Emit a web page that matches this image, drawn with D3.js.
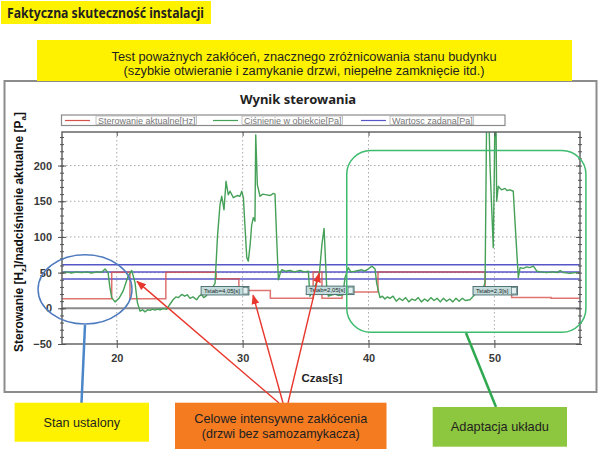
<!DOCTYPE html>
<html>
<head>
<meta charset="utf-8">
<script src="https://cdn.jsdelivr.net/npm/d3@7"></script>
<style>
  body { margin: 0; background: #fff; }
  svg { display: block; }
</style>
</head>
<body>
<svg id="chart" width="600" height="452"></svg>
<script>
// Axis ticks
const timeTicks = [20, 30, 40, 50];
const valueTicks = [-50, 0, 50, 100, 150, 200];
const timeDomain = [15.65, 56.8];
const valueDomain = [-50, 247];

// Setpoint band (Wartosc zadana [Pa])
const setpointLevels = [61, 51, 41];

// Control signal (Sterowanie aktualne [Hz]) as [time, value] steps
const controlSteps = [
  [15.65, 13.5], [19.6, 50.5], [21.05, 13.5], [23.9, 50.5], [27.9, 41.5],
  [29.7, 25], [32.2, 14], [35.6, 51], [36.3, 14], [37.9, 23], [40.75, 51],
  [49.26, 25], [51.37, 15], [54.5, 14], [56.8, 13.5]
];

// Measured pressure (Ciśnienie w obiekcie [Pa]) as [time, value]
const pressurePoints = [
  [15.65, 50], [16.0, 51], [16.4, 49.5], [16.8, 51], [17.2, 50], [17.6, 51], [18.0, 49.5],
  [18.4, 51], [18.8, 50.5], [19.07, 55], [19.31, 50], [19.45, 30], [19.6, 15], [19.86, 9],
  [20.18, 14], [20.5, 24], [20.9, 45], [21.19, 53], [21.45, 36], [21.64, 8], [21.85, -4],
  [22.05, -2], [22.25, -5], [22.45, -2], [22.64, -3], [22.85, -1], [23.04, -2.5], [23.25, -1],
  [23.44, -2], [23.7, -0.5], [23.97, -1.5], [24.2, 5], [24.47, 12], [24.7, 16], [24.9, 15],
  [25.16, 19.5], [25.4, 17], [25.6, 19], [25.82, 14], [26.05, 16], [26.35, 12], [26.55, 17],
  [26.75, 19.5], [26.9, 15], [27.09, 17], [27.25, 22], [27.41, 26], [27.67, 31], [27.81, 35],
  [28.0, 100], [28.2, 145], [28.34, 157], [28.52, 138], [28.68, 178], [28.86, 159], [29.0, 164],
  [29.26, 155], [29.56, 158], [29.79, 157], [29.93, 164], [30.06, 155], [30.2, 110], [30.33, 71],
  [30.45, 66], [30.6, 90], [30.72, 117], [30.85, 127], [30.98, 122], [31.04, 243], [31.17, 173],
  [31.38, 157], [31.6, 160], [31.91, 159], [32.2, 158], [32.44, 161], [32.57, 160], [32.7, 100],
  [32.84, 40], [33.0, 50], [33.11, 54], [33.4, 52], [33.77, 53], [34.1, 51], [34.56, 53],
  [34.9, 51], [35.22, 52], [35.3, 30], [35.35, 17], [35.55, 24], [35.75, 31], [36.09, 47],
  [36.3, 90], [36.47, 112], [36.6, 60], [36.68, 29], [36.81, 17], [37.1, 19], [37.34, 20],
  [37.6, 18], [37.97, 19], [38.13, 43], [38.39, 57], [38.6, 51], [38.93, 52], [39.2, 53],
  [39.48, 54], [39.7, 52], [39.96, 55], [40.28, 59], [40.52, 55], [40.65, 35], [40.91, 15],
  [41.1, 17], [41.3, 13], [41.5, 16], [41.7, 14], [41.95, 17], [42.2, 10], [42.45, 14],
  [42.7, 11], [42.95, 15], [43.2, 9], [43.45, 13], [43.7, 11], [43.95, 15], [44.2, 9],
  [44.45, 13], [44.7, 10], [44.95, 15], [45.2, 11], [45.45, 14], [45.7, 9], [45.95, 14],
  [46.2, 10], [46.45, 13], [46.7, 9], [46.95, 14], [47.2, 10], [47.45, 14], [47.7, 11],
  [48.06, 12], [48.46, 19.5], [48.86, 22], [49.1, 28], [49.26, 36], [49.39, 280], [49.55, 280],
  [49.65, 200], [49.91, 85], [50.0, 200], [50.05, 280], [50.12, 280], [50.18, 150], [50.31, 171],
  [50.45, 168], [50.58, 166], [50.84, 168], [51.0, 165], [51.24, 166], [51.5, 164], [51.64, 120],
  [51.9, 43], [52.04, 57], [52.3, 56], [52.57, 58], [52.8, 57], [53.1, 59], [53.37, 52],
  [53.7, 51], [54.16, 50], [54.6, 51], [55.0, 50], [55.22, 53], [55.5, 50], [56.01, 49],
  [56.4, 50], [56.8, 50]
];

// Settling time labels: start time, level, text
const tstabTimes = [26.7, 35.05, 48.3];
const tstabLevels = [25, 25.5, 25];
const tstabTexts = ['Tstab=4,05[s]', 'Tstab=2,05[s]', 'Tstab=2,3[s]'];

const legendLabels = ['Sterowanie aktualne[Hz]', 'Ciśnienie w obiekcie[Pa]', 'Wartosc zadana[Pa]'];

const colors = {
  control: '#d6504c',
  pressure: '#45a058',
  setpoint: '#5656c8',
  yellow: '#fff200',
  orange: '#f47b20',
  green: '#8dc63f',
  arrow: '#e8372c'
};

const svg = d3.select('#chart');
const plot = { left: 62, right: 580, top: 132, bottom: 344 };

const xScale = d3.scaleLinear().domain(timeDomain).range([plot.left, plot.right]);
const yScale = d3.scaleLinear().domain(valueDomain).range([plot.bottom, plot.top]);

/**
 * Outer frame, titles and legend
 */
function drawFrame() {
  svg.append('rect')
    .attr('x', 4.5).attr('y', 81).attr('width', 592).attr('height', 311)
    .style('fill', '#fff').style('stroke', '#8c8c8c').style('stroke-width', 2);

  svg.append('rect')
    .attr('x', 1).attr('y', 1).attr('width', 210).attr('height', 23)
    .style('fill', colors.yellow);
  svg.append('text')
    .attr('x', 7).attr('y', 18)
    .attr('textLength', 197).attr('lengthAdjust', 'spacingAndGlyphs')
    .style('font', 'bold 14px "Noto Sans", sans-serif').style('fill', '#231f20')
    .text('Faktyczna skuteczność instalacji');

  svg.append('text')
    .attr('x', 298).attr('y', 104).attr('text-anchor', 'middle')
    .style('font', 'bold 13px "Noto Sans", sans-serif').style('fill', '#222')
    .text('Wynik sterowania');

  // Legend
  const lg = svg.append('g');
  lg.append('rect')
    .attr('x', 61.5).attr('y', 115).attr('width', 443.5).attr('height', 10.5)
    .style('fill', '#fff').style('stroke', '#8a8a8a').style('stroke-width', 1.2);
  const lineX = [65, 213, 361];
  const textX = [98, 244, 392];
  const seriesColors = [colors.control, colors.pressure, colors.setpoint];
  legendLabels.forEach((label, i) => {
    lg.append('line')
      .attr('x1', lineX[i]).attr('x2', lineX[i] + 25)
      .attr('y1', 120.5).attr('y2', 120.5)
      .style('stroke', seriesColors[i]).style('stroke-width', 1.2);
    const t = lg.append('text')
      .attr('x', textX[i]).attr('y', 123.8)
      .style('font', '9px "Liberation Sans", sans-serif').style('fill', '#777')
      .text(label);
    const w = t.node().getComputedTextLength();
    lg.append('rect')
      .attr('x', textX[i] - 2).attr('y', 116).attr('width', w + 3).attr('height', 8.5)
      .style('fill', 'none').style('stroke', '#aaa').style('stroke-width', 0.7);
  });
}

/**
 * Plot area: grid, series, border and axes
 */
function drawPlot() {
  svg.append('clipPath').attr('id', 'plotClip')
    .append('rect')
    .attr('x', plot.left).attr('y', plot.top)
    .attr('width', plot.right - plot.left).attr('height', plot.bottom - plot.top);

  const g = svg.append('g');

  // Dotted grid
  g.selectAll('.grid-h')
    .data(valueTicks.filter(v => v > valueDomain[0] && v !== 0))
    .enter().append('line')
    .attr('x1', plot.left).attr('x2', plot.right)
    .attr('y1', d => yScale(d)).attr('y2', d => yScale(d))
    .style('stroke', '#aaa').style('stroke-width', 1).style('stroke-dasharray', '1.5,2.5');
  g.selectAll('.grid-v')
    .data(timeTicks)
    .enter().append('line')
    .attr('x1', d => xScale(d)).attr('x2', d => xScale(d))
    .attr('y1', plot.top).attr('y2', plot.bottom)
    .style('stroke', '#aaa').style('stroke-width', 1).style('stroke-dasharray', '1.5,2.5');

  // Zero line
  g.append('line')
    .attr('x1', plot.left).attr('x2', plot.right)
    .attr('y1', yScale(0)).attr('y2', yScale(0))
    .style('stroke', '#8a8a8a').style('stroke-width', 2);

  const series = g.append('g').attr('clip-path', 'url(#plotClip)');

  // Setpoint band
  series.selectAll('.setpoint')
    .data(setpointLevels)
    .enter().append('line')
    .attr('x1', xScale(timeDomain[0])).attr('x2', xScale(timeDomain[1]))
    .attr('y1', d => yScale(d)).attr('y2', d => yScale(d))
    .style('stroke', colors.setpoint).style('stroke-width', 1.5);

  // Control signal
  const stepLine = d3.line()
    .x(d => xScale(d[0]))
    .y(d => yScale(d[1]))
    .curve(d3.curveStepAfter);
  series.append('path')
    .datum(controlSteps)
    .attr('d', stepLine)
    .style('fill', 'none').style('stroke', colors.control)
    .style('stroke-width', 1.5).style('stroke-opacity', 0.8);

  // Pressure
  const line = d3.line()
    .x(d => xScale(d[0]))
    .y(d => yScale(d[1]));
  series.append('path')
    .datum(pressurePoints)
    .attr('d', line)
    .style('fill', 'none').style('stroke', colors.pressure)
    .style('stroke-width', 1.4).style('stroke-linejoin', 'round');

  // Border
  g.append('rect')
    .attr('x', plot.left).attr('y', plot.top)
    .attr('width', plot.right - plot.left).attr('height', plot.bottom - plot.top)
    .style('fill', 'none').style('stroke', '#666').style('stroke-width', 1.5);

  // Axes: major ticks cross the border, minor ticks every 10
  const minorValues = d3.range(-50, 250, 10);
  const tickStyle = sel => {
    sel.select('.domain').remove();
    sel.selectAll('line').style('stroke', '#555');
    sel.selectAll('text')
      .style('font', 'bold 11px "Liberation Sans", Arial, sans-serif')
      .style('fill', '#3a3a3a');
  };

  g.append('g').attr('transform', `translate(${plot.left},0)`)
    .call(d3.axisLeft(yScale).tickValues(valueTicks).tickSize(4).tickPadding(6))
    .call(tickStyle);
  g.append('g').attr('transform', `translate(${plot.left},0)`)
    .call(d3.axisRight(yScale).tickValues(valueTicks).tickSize(4).tickFormat(''))
    .call(tickStyle);
  [plot.left, plot.right].forEach(x0 => {
    g.append('g').attr('transform', `translate(${x0},0)`)
      .call(d3.axisLeft(yScale).tickValues(minorValues).tickSize(2).tickFormat(''))
      .call(tickStyle);
    g.append('g').attr('transform', `translate(${x0},0)`)
      .call(d3.axisRight(yScale).tickValues(minorValues).tickSize(2).tickFormat(''))
      .call(tickStyle);
  });
  g.append('g').attr('transform', `translate(${plot.right},0)`)
    .call(d3.axisLeft(yScale).tickValues(valueTicks).tickSize(4).tickFormat(''))
    .call(tickStyle);

  g.append('g').attr('transform', `translate(0,${plot.bottom})`)
    .call(d3.axisBottom(xScale).tickValues(timeTicks).tickSize(4).tickPadding(6))
    .call(tickStyle);
  g.append('g').attr('transform', `translate(0,${plot.bottom})`)
    .call(d3.axisTop(xScale).tickValues(timeTicks).tickSize(4).tickFormat(''))
    .call(tickStyle);
  g.append('g').attr('transform', `translate(0,${plot.top})`)
    .call(d3.axisBottom(xScale).tickValues(timeTicks).tickSize(4).tickFormat(''))
    .call(tickStyle);

  // Axis titles
  svg.append('text')
    .attr('x', 322).attr('y', 382).attr('text-anchor', 'middle')
    .style('font', 'bold 11.5px "Liberation Sans", Arial, sans-serif').style('fill', '#222')
    .text('Czas[s]');

  const yTitle = svg.append('text')
    .attr('transform', 'translate(23,232) rotate(-90)')
    .attr('text-anchor', 'middle')
    .style('font', 'bold 12px "Liberation Sans", Arial, sans-serif').style('fill', '#111');
  yTitle.append('tspan').text('Sterowanie [H');
  yTitle.append('tspan').attr('dy', 3).style('font-size', '8px').text('z');
  yTitle.append('tspan').attr('dy', -3).text(']/nadciśnienie aktualne [P');
  yTitle.append('tspan').attr('dy', 3).style('font-size', '8px').text('a');
  yTitle.append('tspan').attr('dy', -3).text(']');

  // Settling time boxes
  tstabTexts.forEach((label, i) => {
    const bx = xScale(tstabTimes[i]);
    const by = yScale(tstabLevels[i]);
    const box = svg.append('g');
    const t = box.append('text')
      .attr('x', bx + 3).attr('y', by + 2.3)
      .style('font', '6px "Liberation Sans", sans-serif').style('fill', '#1d2b2b')
      .text(label);
    const w = t.node().getComputedTextLength();
    box.insert('rect', 'text')
      .attr('x', bx).attr('y', by - 4).attr('width', w + 12).attr('height', 8.5)
      .style('fill', '#c4dbdb').style('stroke', '#44686a').style('stroke-width', 0.9);
    box.insert('rect', 'text')
      .attr('x', bx + w + 6).attr('y', by - 3).attr('width', 5).attr('height', 6.5)
      .style('fill', '#e3efef').style('stroke', '#44686a').style('stroke-width', 0.6);
  });
}

/**
 * Annotation shapes, arrows and callout boxes
 */
function drawAnnotations() {
  const defs = svg.append('defs');
  defs.append('marker')
    .attr('id', 'arrowHead')
    .attr('viewBox', '0 0 10 10').attr('refX', 9).attr('refY', 5)
    .attr('markerWidth', 7).attr('markerHeight', 7)
    .attr('orient', 'auto')
    .append('path').attr('d', 'M0,1 L10,5 L0,9 Z').style('fill', colors.arrow);

  // Steady state ellipse
  const ellipseCx = xScale(17.48);
  const ellipseCy = yScale(26.5);
  svg.append('ellipse')
    .attr('cx', ellipseCx).attr('cy', ellipseCy)
    .attr('rx', xScale(17.48 + 3.73) - ellipseCx)
    .attr('ry', ellipseCy - yScale(26.5 + 48.5))
    .style('fill', 'none').style('stroke', '#4f7bbf').style('stroke-width', 1.5);
  svg.append('line')
    .attr('x1', 85).attr('y1', 325).attr('x2', 81.5).attr('y2', 403)
    .style('stroke', '#4a86c8').style('stroke-width', 2.5);

  // Adaptation rounded rectangle
  const rx0 = xScale(38.27);
  const ry0 = yScale(221);
  svg.append('rect')
    .attr('x', rx0).attr('y', ry0)
    .attr('width', xScale(57.27) - rx0).attr('height', yScale(-33.5) - ry0)
    .attr('rx', 24).attr('ry', 24)
    .style('fill', 'none').style('stroke', '#3dbb6e').style('stroke-width', 1.5);
  svg.append('line')
    .attr('x1', 466).attr('y1', 333).attr('x2', 496).attr('y2', 407)
    .style('stroke', '#2fa84f').style('stroke-width', 2.5);

  // Disturbance arrows
  const arrowTips = [[21.61, 37.7], [30.83, 18.2], [36.07, 48.9]];
  const arrowStarts = [279, 283, 288];
  arrowTips.forEach((tip, i) => {
    svg.append('line')
      .attr('x1', arrowStarts[i]).attr('y1', 403)
      .attr('x2', xScale(tip[0])).attr('y2', yScale(tip[1]))
      .attr('marker-end', 'url(#arrowHead)')
      .style('stroke', colors.arrow).style('stroke-width', 1.4);
  });

  // Subtitle box over the frame
  svg.append('rect')
    .attr('x', 37).attr('y', 40).attr('width', 535).attr('height', 41)
    .style('fill', colors.yellow);
  const subLines = [
    'Test poważnych zakłóceń, znacznego zróżnicowania stanu budynku',
    '(szybkie otwieranie i zamykanie drzwi, niepełne zamknięcie itd.)'
  ];
  const subWidths = [385, 361];
  subLines.forEach((s, i) => {
    svg.append('text')
      .attr('x', 304).attr('y', 61 + i * 13.6).attr('text-anchor', 'middle')
      .attr('textLength', subWidths[i]).attr('lengthAdjust', 'spacingAndGlyphs')
      .style('font', '12px "Liberation Sans", sans-serif').style('fill', '#231f20')
      .text(s);
  });

  // Callout boxes
  const callouts = [
    { x: 14.6, y: 402.7, w: 134.4, h: 39, fill: colors.yellow, lines: ['Stan ustalony'], widths: [76.5] },
    { x: 175, y: 402.7, w: 211.5, h: 46.3, fill: colors.orange,
      lines: ['Celowe intensywne zakłócenia', '(drzwi bez samozamykacza)'], widths: [173, 158] },
    { x: 432.7, y: 407, w: 134.3, h: 39.7, fill: colors.green, lines: ['Adaptacja układu'], widths: [98] }
  ];
  callouts.forEach(c => {
    svg.append('rect')
      .attr('x', c.x).attr('y', c.y).attr('width', c.w).attr('height', c.h)
      .style('fill', c.fill);
    const cy = c.y + c.h / 2;
    c.lines.forEach((s, i) => {
      svg.append('text')
        .attr('x', c.x + c.w / 2)
        .attr('y', cy + 4.5 + (i - (c.lines.length - 1) / 2) * 15)
        .attr('text-anchor', 'middle')
        .attr('textLength', c.widths[i]).attr('lengthAdjust', 'spacingAndGlyphs')
        .style('font', '13px "Liberation Sans", sans-serif').style('fill', '#231f20')
        .text(s);
    });
  });
}

drawFrame();
drawPlot();
drawAnnotations();
</script>
</body>
</html>
